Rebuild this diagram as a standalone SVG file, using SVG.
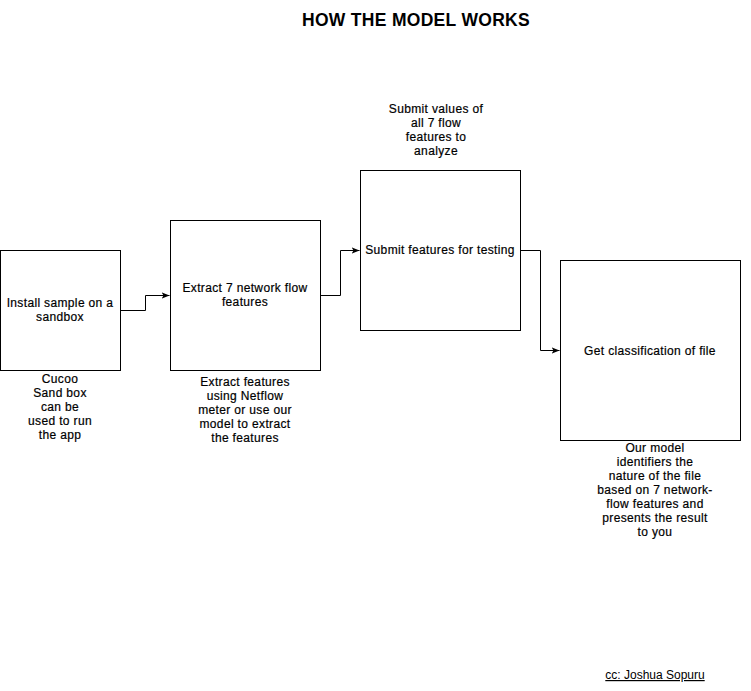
<svg xmlns="http://www.w3.org/2000/svg" width="751" height="691" viewBox="0 0 751 691">
<style>
.box{fill:#fff;stroke:#000;stroke-width:1}
.t{font-family:"Liberation Sans",Arial,Helvetica,sans-serif;font-size:12px;letter-spacing:0.35px;fill:#000;stroke:#000;stroke-width:0.2;text-anchor:middle}
.title{font-family:"Liberation Sans",Arial,Helvetica,sans-serif;font-size:17.5px;letter-spacing:0.3px;font-weight:bold;fill:#000;text-anchor:middle}
.edge{fill:none;stroke:#000;stroke-width:1}
</style>
<defs>
<marker id="arr" viewBox="0 0 10 10" refX="10" refY="5" markerWidth="8" markerHeight="8" markerUnits="userSpaceOnUse" orient="auto">
<path d="M0,1 L10,5 L0,9 L2.5,5 Z" fill="#000"/>
</marker>
</defs>
<rect width="751" height="691" fill="#fff"/>
<text class="title" x="416" y="26">HOW THE MODEL WORKS</text>
<g id="connectors">
<path class="edge" d="M120.5,310.5 H145.5 V295.5 H169.5" marker-end="url(#arr)"/>
<path class="edge" d="M320.5,295.5 H340.5 V250.5 H359.5" marker-end="url(#arr)"/>
<path class="edge" d="M520.5,250.5 H540.5 V350.5 H559.5" marker-end="url(#arr)"/>
</g>
<g id="node-install">
<rect class="box" x="0.5" y="250.5" width="120" height="120"/>
<text class="t" x="60" y="307">Install sample on a</text>
<text class="t" x="60" y="321">sandbox</text>
</g>
<g id="node-extract">
<rect class="box" x="170.5" y="220.5" width="150" height="150"/>
<text class="t" x="245" y="292">Extract 7 network flow</text>
<text class="t" x="245" y="306">features</text>
</g>
<g id="node-submit">
<rect class="box" x="360.5" y="170.5" width="160" height="160"/>
<text class="t" x="440" y="254">Submit features for testing</text>
</g>
<g id="node-classify">
<rect class="box" x="560.5" y="260.5" width="180" height="180"/>
<text class="t" x="650" y="355">Get classification of file</text>
</g>
<g id="label-cucoo">
<text class="t" x="60" y="383">Cucoo</text>
<text class="t" x="60" y="397">Sand box</text>
<text class="t" x="60" y="411">can be</text>
<text class="t" x="60" y="425">used to run</text>
<text class="t" x="60" y="439">the app</text>
</g>
<g id="label-extract">
<text class="t" x="245" y="386">Extract features</text>
<text class="t" x="245" y="400">using Netflow</text>
<text class="t" x="245" y="414">meter or use our</text>
<text class="t" x="245" y="428">model to extract</text>
<text class="t" x="245" y="442">the features</text>
</g>
<g id="label-submit">
<text class="t" x="436" y="113">Submit values of</text>
<text class="t" x="436" y="127">all 7 flow</text>
<text class="t" x="436" y="141">features to</text>
<text class="t" x="436" y="155">analyze</text>
</g>
<g id="label-model">
<text class="t" x="655" y="452">Our model</text>
<text class="t" x="655" y="466">identifiers the</text>
<text class="t" x="655" y="480">nature of the file</text>
<text class="t" x="655" y="494">based on 7 network-</text>
<text class="t" x="655" y="508">flow features and</text>
<text class="t" x="655" y="522">presents the result</text>
<text class="t" x="655" y="536">to you</text>
</g>
<g id="credit">
<text class="t" x="655" y="679" text-decoration="underline" style="letter-spacing:0;stroke:none">cc: Joshua Sopuru</text>
</g>
</svg>
